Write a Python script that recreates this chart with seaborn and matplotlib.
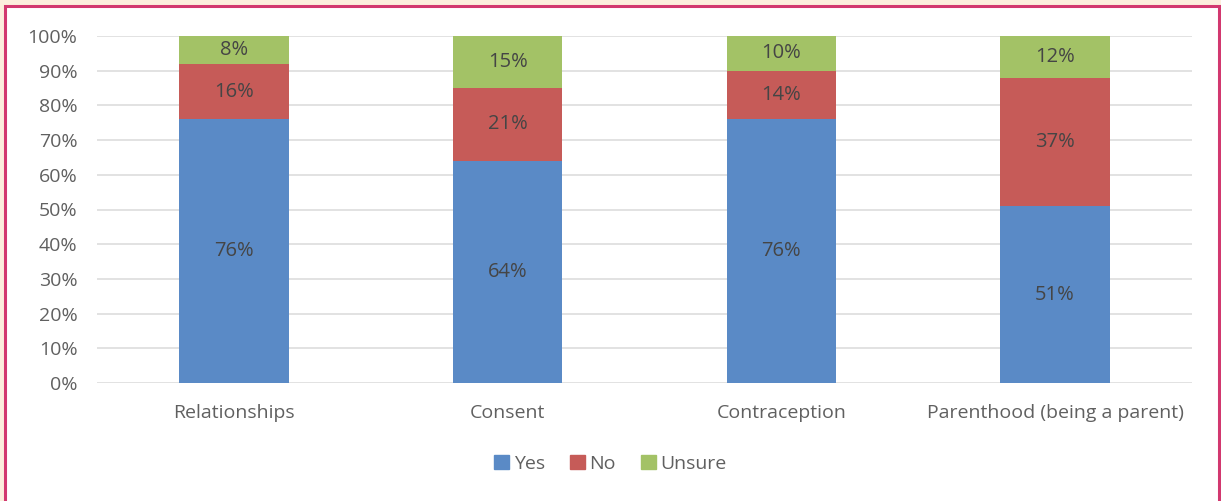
import seaborn as sns
import matplotlib.pyplot as plt
import pandas as pd
from matplotlib.patches import Rectangle, Patch

categories = ['Relationships', 'Consent', 'Contraception', 'Parenthood (being a parent)']
yes = [76, 64, 76, 51]
no = [16, 21, 14, 37]
unsure = [8, 15, 10, 12]

colors = {'Yes': '#5A8AC6', 'No': '#C65B58', 'Unsure': '#A3C266'}
text_grey = '#606060'

df = pd.DataFrame({'category': categories, 'Yes': yes, 'No': no, 'Unsure': unsure})
df['yes_top'] = df['Yes']
df['no_top'] = df['Yes'] + df['No']
df['unsure_top'] = df['no_top'] + df['Unsure']

sns.set_style('white')
plt.rcParams['font.family'] = ['Open Sans', 'DejaVu Sans']

fig = plt.figure(figsize=(12.21, 5.01), dpi=100)
fig.patch.set_facecolor('#FCEEDD')
# white panel with pink border
fig.patches.append(Rectangle((5 / 1221, -0.05), 1214 / 1221, 1 - 6.5 / 501 + 0.05,
                             transform=fig.transFigure, facecolor='white',
                             edgecolor='#D2386F', linewidth=2.2, zorder=-1))

ax = fig.add_axes([97 / 1221, 1 - 383 / 501, 1095 / 1221, 347 / 501])
ax.set_facecolor('none')

# stacked bars: draw cumulative totals from top down
for col, key in [('unsure_top', 'Unsure'), ('no_top', 'No'), ('yes_top', 'Yes')]:
    sns.barplot(data=df, x='category', y=col, color=colors[key], width=0.4,
                saturation=1, ax=ax, zorder=3, edgecolor='none')

lab = dict(ha='center', va='center', fontsize=14.5, color='#454545', zorder=4)
for i in range(len(categories)):
    ax.text(i, yes[i] / 2, f'{yes[i]}%', **lab)
    ax.text(i, yes[i] + no[i] / 2, f'{no[i]}%', **lab)
    ax.text(i, yes[i] + no[i] + unsure[i] / 2, f'{unsure[i]}%', **lab)

ax.set_ylim(0, 100)
ax.set_xlim(-0.5, len(categories) - 0.5)
ax.set_yticks(range(0, 101, 10))
ax.set_yticklabels([f'{v}%' for v in range(0, 101, 10)], fontsize=14, color=text_grey)
ax.tick_params(axis='x', labelsize=14, labelcolor=text_grey, length=0, pad=15)
ax.tick_params(axis='y', length=0, pad=14)
ax.yaxis.grid(True, color='#DDDDDD', linewidth=1.2, zorder=0)
ax.set_axisbelow(True)
for s in ax.spines.values():
    s.set_visible(False)
ax.set_xlabel('')
ax.set_ylabel('')

handles = [Patch(color=colors[k]) for k in ['Yes', 'No', 'Unsure']]
fig.legend(handles, ['Yes', 'No', 'Unsure'], loc='center', bbox_to_anchor=(0.5, 1 - 464 / 501),
           ncol=3, frameon=False, fontsize=14, labelcolor=text_grey, handlelength=0.75,
           handleheight=0.75, handletextpad=0.25, columnspacing=1.3)

fig.savefig('out.png', dpi=100, facecolor=fig.get_facecolor())
